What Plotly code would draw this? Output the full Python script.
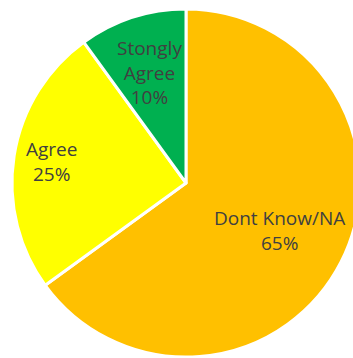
import math
import plotly.graph_objects as go

labels = ["Dont Know/NA", "Agree", "Stongly<br>Agree"]
values = [65, 25, 10]
colors = ["#FFC000", "#FFFF00", "#00B050"]
label_radius = [0.60, 0.78, 0.67]  # fraction of pie radius for label placement

W, H = 362, 360
CX, CY, R = 186, 183, 174

fig = go.Figure(go.Pie(
    labels=labels,
    values=values,
    sort=False,
    direction="clockwise",
    rotation=0,
    marker=dict(colors=colors, line=dict(color="white", width=3)),
    textinfo="none",
    showlegend=False,
    hoverinfo="skip",
    domain=dict(x=[(CX - R) / W, (CX + R) / W], y=[1 - (CY + R) / H, 1 - (CY - R) / H]),
))

total = sum(values)
cum = 0
annotations = []
for lab, v, rf in zip(labels, values, label_radius):
    mid = (cum + v / 2) / total * 2 * math.pi
    cum += v
    px = CX + rf * R * math.sin(mid)
    py = CY - rf * R * math.cos(mid)
    annotations.append(dict(
        x=px / W, y=1 - py / H, xref="paper", yref="paper",
        text=f"{lab}<br>{round(v / total * 100)}%",
        showarrow=False, xanchor="center", yanchor="middle",
        font=dict(family="Open Sans", size=19, color="#404040"),
    ))

fig.update_layout(
    width=W, height=H,
    margin=dict(l=0, r=0, t=0, b=0),
    paper_bgcolor="white",
    plot_bgcolor="white",
    annotations=annotations,
)
fig.write_html("out.html")
